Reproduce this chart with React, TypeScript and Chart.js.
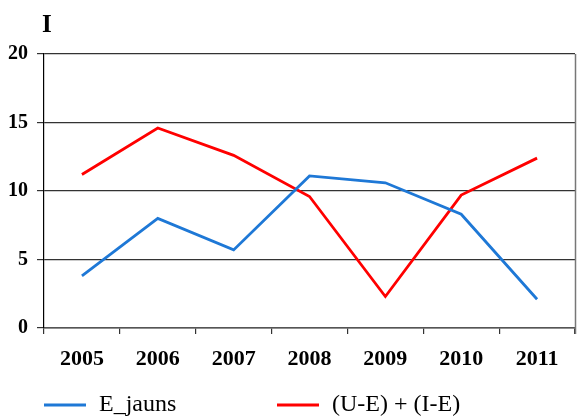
import React, { useEffect, useRef } from "react";
import { Chart, registerables } from "chart.js";

Chart.register(...registerables);

const years = ["2005", "2006", "2007", "2008", "2009", "2010", "2011"];
const eJauns = [3.8, 8.0, 5.7, 11.1, 10.6, 8.3, 2.1];
const ueIe = [11.2, 14.6, 12.6, 9.6, 2.3, 9.7, 12.4];
const yTicks = [0, 5, 10, 15, 20];
const titleText = "I";

const SERIF = "'Liberation Serif', 'Times New Roman', serif";

const customPlugin = {
  id: "custom",
  afterDraw(chart: any) {
    const ctx = chart.ctx;
    const area = chart.chartArea;
    ctx.save();
    // right border
    ctx.strokeStyle = "#777";
    ctx.lineWidth = 1.5;
    ctx.beginPath();
    ctx.moveTo(area.right + 0.5, area.top);
    ctx.lineTo(area.right + 0.5, area.bottom + 6);
    ctx.stroke();
    // title
    ctx.fillStyle = "#000";
    ctx.font = `bold 25px ${SERIF}`;
    ctx.textBaseline = "alphabetic";
    ctx.textAlign = "left";
    ctx.fillText(titleText, 42, 32);
    // legend
    ctx.font = `24px ${SERIF}`;
    ctx.textBaseline = "middle";
    chart.data.datasets.forEach((ds: any, i: number) => {
      const x = area.left + i * 233;
      const y = 405;
      ctx.strokeStyle = ds.borderColor;
      ctx.lineWidth = 3;
      ctx.beginPath();
      ctx.moveTo(x, y);
      ctx.lineTo(x + 42, y);
      ctx.stroke();
      ctx.fillStyle = "#000";
      ctx.fillText(ds.label, x + 55, y);
    });
    ctx.restore();
  },
};

export default function App() {
  const ref = useRef<HTMLCanvasElement>(null);
  useEffect(() => {
    document.body.style.margin = "0";
    const chart = new Chart(ref.current!, {
      type: "line",
      data: {
        labels: years,
        datasets: [
          {
            label: "E_jauns",
            data: eJauns,
            borderColor: "#1E78D6",
            backgroundColor: "#1E78D6",
            borderWidth: 2.8,
            pointRadius: 0,
            tension: 0,
          },
          {
            label: "(U-E) + (I-E)",
            data: ueIe,
            borderColor: "#FF0000",
            backgroundColor: "#FF0000",
            borderWidth: 2.8,
            pointRadius: 0,
            tension: 0,
          },
        ],
      },
      options: {
        responsive: false,
        animation: false,
        events: [],
        layout: { padding: { top: 54, right: 7, left: 0, bottom: 0 } },
        plugins: {
          legend: { display: false },
          tooltip: { enabled: false },
          title: { display: false },
        },
        scales: {
          x: {
            type: "category",
            offset: true,
            afterFit: (s: any) => {
              s.height = 88;
            },
            grid: {
              offset: true,
              drawOnChartArea: false,
              drawTicks: true,
              tickLength: 6,
              color: "#333",
              lineWidth: 1.2,
            },
            border: { display: true, color: "#555", width: 1.5 },
            ticks: {
              color: "#000",
              padding: 12,
              maxRotation: 0,
              font: { family: SERIF, size: 22, weight: "bold" },
            },
          },
          y: {
            min: 0,
            max: 20,
            afterFit: (s: any) => {
              s.width = 44;
            },
            afterBuildTicks: (s: any) => {
              s.ticks = yTicks.map((v) => ({ value: v }));
            },
            grid: {
              color: "#333",
              lineWidth: 1.2,
              drawTicks: true,
              tickLength: 7,
            },
            border: { display: true, color: "#000", width: 1.2 },
            ticks: {
              color: "#000",
              padding: 9,
              font: { family: SERIF, size: 20, weight: "bold" },
            },
          },
        },
      },
      plugins: [customPlugin],
    });
    return () => chart.destroy();
  }, []);
  return (
    <div style={{ width: 582, height: 416 }}>
      <canvas ref={ref} width={582} height={416} style={{ display: "block" }} />
    </div>
  );
}
